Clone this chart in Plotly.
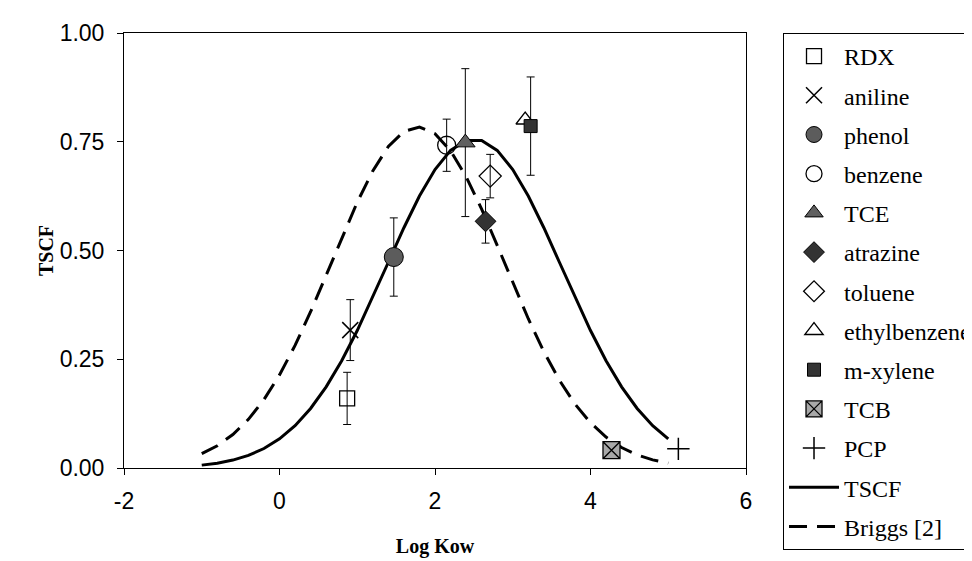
import plotly.graph_objects as go

# ---- data ----
compounds = ["RDX", "aniline", "phenol", "benzene", "TCE", "atrazine",
             "toluene", "ethylbenzene", "m-xylene", "TCB", "PCP"]
log_kow = [0.87, 0.91, 1.47, 2.15, 2.39, 2.65, 2.71, 3.16, 3.23, 4.27, 5.13]
tscf_obs = [0.160, 0.317, 0.485, 0.742, 0.748, 0.567, 0.671, 0.800, 0.786, 0.041, 0.044]
tscf_err = [0.060, 0.070, 0.090, 0.060, 0.170, 0.050, 0.050, None, 0.113, None, None]

curve_log_kow = [-1.0, -0.8, -0.6, -0.4, -0.2, 0.0, 0.2, 0.4, 0.6, 0.8, 1.0,
                 1.2, 1.4, 1.6, 1.8, 2.0, 2.2, 2.4, 2.6, 2.8, 3.0, 3.2, 3.4,
                 3.6, 3.8, 4.0, 4.2, 4.4, 4.6, 4.8, 5.0]
tscf_curve = [0.0066, 0.0111, 0.0182, 0.0290, 0.0448, 0.0670, 0.0973, 0.1368,
              0.1866, 0.2466, 0.3161, 0.3927, 0.4730, 0.5523, 0.6252, 0.6862,
              0.7301, 0.7531, 0.7531, 0.7301, 0.6862, 0.6252, 0.5523, 0.4730,
              0.3927, 0.3161, 0.2466, 0.1866, 0.1368, 0.0973, 0.0670]
briggs_curve = [0.0330, 0.0512, 0.0769, 0.1118, 0.1572, 0.2140, 0.2818, 0.3592,
                0.4431, 0.5289, 0.6110, 0.6830, 0.7390, 0.7737, 0.7839, 0.7686,
                0.7293, 0.6697, 0.5952, 0.5118, 0.4260, 0.3431, 0.2674, 0.2017,
                0.1472, 0.1040, 0.0711, 0.0470, 0.0301, 0.0187, 0.0112]

x_ticks = [-2, 0, 2, 4, 6]
x_tick_labels = ["-2", "0", "2", "4", "6"]
y_ticks = [0.0, 0.25, 0.5, 0.75, 1.0]
y_tick_labels = ["0.00", "0.25", "0.50", "0.75", "1.00"]

# ---- styles ----
marker_styles = {
    "RDX":          dict(symbol="square-open", size=15, color="black", line=dict(width=1.3, color="black")),
    "aniline":      dict(symbol="x-thin-open", size=16, color="black", line=dict(width=1.5, color="black")),
    "phenol":       dict(symbol="circle", size=19, color="#5c5c5c", line=dict(width=1, color="black")),
    "benzene":      dict(symbol="circle-open", size=18, color="black", line=dict(width=1.3, color="black")),
    "TCE":          dict(symbol="triangle-up", size=17, color="#606060", line=dict(width=1, color="black")),
    "atrazine":     dict(symbol="diamond", size=16, color="#333333", line=dict(width=1, color="black")),
    "toluene":      dict(symbol="diamond-open", size=17, color="black", line=dict(width=1.3, color="black")),
    "ethylbenzene": dict(symbol="triangle-up-open", size=16, color="black", line=dict(width=1.3, color="black")),
    "m-xylene":     dict(symbol="square", size=13, color="#333333", line=dict(width=1, color="black")),
    "TCB":          dict(symbol="square-x", size=17, color="#a8a8a8", line=dict(width=1.3, color="black")),
    "PCP":          dict(symbol="cross-thin-open", size=16, color="black", line=dict(width=1.5, color="black")),
}

fig = go.Figure()

fig.add_trace(go.Scatter(
    x=curve_log_kow, y=tscf_curve, mode="lines", name="TSCF",
    line=dict(color="black", width=3), legendrank=1012, legendgroup="TSCF"))
fig.add_trace(go.Scatter(
    x=curve_log_kow, y=briggs_curve, mode="lines", name="Briggs [2]",
    line=dict(color="black", width=3, dash="18px,10px"), legendrank=1013,
    legendgroup="Briggs"))

for i, name in enumerate(compounds):
    err = tscf_err[i]
    err_kw = dict(type="data", array=[err], visible=True, color="black",
                  thickness=1, width=4) if err is not None else dict(visible=False)
    fig.add_trace(go.Scatter(
        x=[log_kow[i]], y=[tscf_obs[i]], mode="markers", name=name,
        marker=marker_styles[name], error_y=err_kw,
        legendrank=1000 + i, legendgroup=name))

axis_common = dict(showline=True, linecolor="black", linewidth=1, mirror=True,
                   ticks="outside", ticklen=6, tickcolor="black", showgrid=False,
                   zeroline=False,
                   tickfont=dict(family="Liberation Sans", size=23, color="black"))

fig.update_layout(
    width=972, height=561,
    margin=dict(l=116, r=234, t=25, b=101, autoexpand=False),
    paper_bgcolor="white", plot_bgcolor="white",
    xaxis=dict(range=[-2, 6], tickmode="array", tickvals=x_ticks, ticktext=x_tick_labels,
               ticklabelstandoff=6,
               title=dict(text="<b>Log Kow</b>", standoff=26,
                          font=dict(family="Liberation Serif", size=20, color="black")),
               **axis_common),
    yaxis=dict(range=[0, 1], tickmode="array", tickvals=y_ticks, ticktext=y_tick_labels,
               ticklabelstandoff=8,
               title=dict(text="<b>TSCF</b>", standoff=0,
                          font=dict(family="Liberation Serif", size=20, color="black")),
               **axis_common),
    legend=dict(x=1.0595, y=1.0, xanchor="left", yanchor="top",
                bordercolor="black", borderwidth=1, bgcolor="white",
                font=dict(family="Liberation Serif", size=24, color="black"),
                itemwidth=50, tracegroupgap=5, maxheight=560),
    showlegend=True,
)

fig.write_html("out.html")
